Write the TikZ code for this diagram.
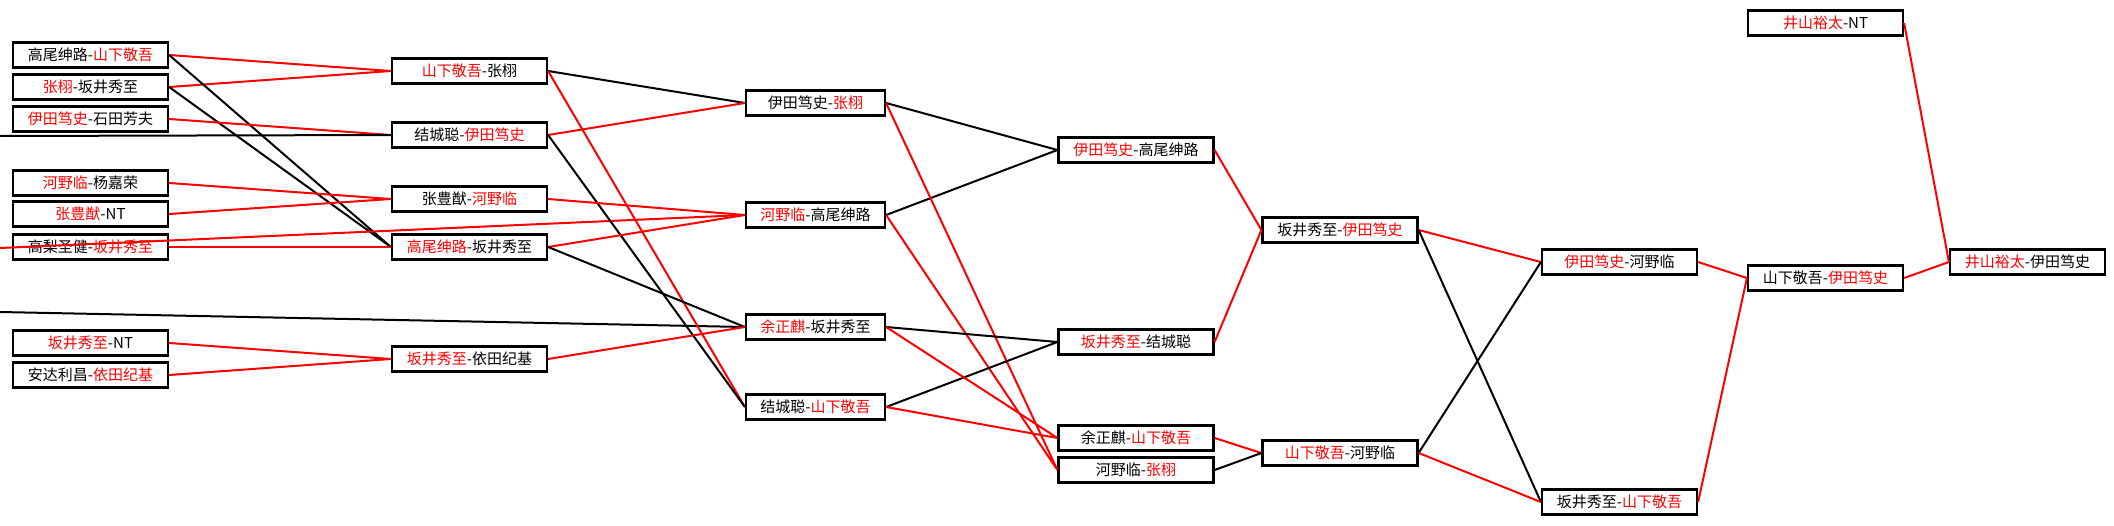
\documentclass[tikz,border=0pt]{standalone}
\usepackage{fontspec}
\newfontfamily\cjk{Noto Sans CJK SC}
\newcommand{\winner}[1]{\textcolor{red}{#1}}
\begin{document}
\begin{tikzpicture}[x=1pt, y=-1pt,
  match/.style={draw, line width=2.2pt, fill=white, minimum width=155pt, minimum height=25pt, inner sep=0pt, font=\cjk\fontsize{15}{15}\selectfont},
  narrow/.style={match, minimum width=139pt},
  won/.style={draw=red, line width=2pt},
  lost/.style={draw=black, line width=2pt}]
  \useasboundingbox (0,0) rectangle (2114,525);
  \node (a1) at (90.5, 55) [match] {高尾绅路-\winner{山下敬吾}};
  \node (a2) at (90.5, 87) [match] {\winner{张栩}-坂井秀至};
  \node (a3) at (90.5, 119) [match] {\winner{伊田笃史}-石田芳夫};
  \node (a4) at (90.5, 183) [match] {\winner{河野临}-杨嘉荣};
  \node (a5) at (90.5, 214) [match] {\winner{张豊猷}-NT};
  \node (a6) at (90.5, 247) [match] {高梨圣健-\winner{坂井秀至}};
  \node (a7) at (90.5, 343) [match] {\winner{坂井秀至}-NT};
  \node (a8) at (90.5, 375) [match] {安达利昌-\winner{依田纪基}};
  \node (b1) at (469.5, 71) [match] {\winner{山下敬吾}-张栩};
  \node (b2) at (469.5, 135) [match] {结城聪-\winner{伊田笃史}};
  \node (b3) at (469.5, 199) [match] {张豊猷-\winner{河野临}};
  \node (b4) at (469.5, 247) [match] {\winner{高尾绅路}-坂井秀至};
  \node (b5) at (469.5, 359) [match] {\winner{坂井秀至}-依田纪基};
  \node (c1) at (815.5, 103) [narrow] {伊田笃史-\winner{张栩}};
  \node (c2) at (815.5, 215) [narrow] {\winner{河野临}-高尾绅路};
  \node (c3) at (815.5, 327) [narrow] {\winner{余正麒}-坂井秀至};
  \node (c4) at (815.5, 407) [narrow] {结城聪-\winner{山下敬吾}};
  \node (d1) at (1136, 150) [match] {\winner{伊田笃史}-高尾绅路};
  \node (d2) at (1136, 342) [match] {\winner{坂井秀至}-结城聪};
  \node (d3) at (1136, 438) [match] {余正麒-\winner{山下敬吾}};
  \node (d4) at (1136, 470) [match] {河野临-\winner{张栩}};
  \node (e1) at (1340, 230) [match] {坂井秀至-\winner{伊田笃史}};
  \node (e2) at (1340, 453) [match] {\winner{山下敬吾}-河野临};
  \node (f1) at (1619.5, 262) [match] {\winner{伊田笃史}-河野临};
  \node (f2) at (1619.5, 502) [match] {坂井秀至-\winner{山下敬吾}};
  \node (g0) at (1825.5, 23) [match] {\winner{井山裕太}-NT};
  \node (g1) at (1825.5, 278) [match] {山下敬吾-\winner{伊田笃史}};
  \node (h1) at (2027.5, 262) [match] {\winner{井山裕太}-伊田笃史};
  \coordinate (in1) at (0, 136);
  \coordinate (in2) at (0, 248);
  \coordinate (in3) at (0, 312);
  \draw [won] (a1.east) -- (b1.west) (a2.east) -- (b1.west);
  \draw [lost] (a1.east) -- (b4.west) (a2.east) -- (b4.west);
  \draw [won] (a3.east) -- (b2.west);
  \draw [lost] (in1) -- (b2.west);
  \draw [won] (a4.east) -- (b3.west) (a5.east) -- (b3.west);
  \draw [won] (a6.east) -- (b4.west);
  \draw [won] (in2) -- (c2.west);
  \draw [lost] (in3) -- (c3.west);
  \draw [won] (a7.east) -- (b5.west) (a8.east) -- (b5.west);
  \draw [lost] (b1.east) -- (c1.west);
  \draw [won] (b1.east) -- (c4.west);
  \draw [won] (b2.east) -- (c1.west);
  \draw [lost] (b2.east) -- (c4.west);
  \draw [won] (b3.east) -- (c2.west) (b4.east) -- (c2.west);
  \draw [lost] (b4.east) -- (c3.west);
  \draw [won] (b5.east) -- (c3.west);
  \draw [lost] (c1.east) -- (d1.west) (c2.east) -- (d1.west);
  \draw [won] (c1.east) -- (d4.west) (c2.east) -- (d4.west);
  \draw [lost] (c3.east) -- (d2.west) (c4.east) -- (d2.west);
  \draw [won] (c3.east) -- (d3.west) (c4.east) -- (d3.west);
  \draw [won] (d1.east) -- (e1.west) (d2.east) -- (e1.west);
  \draw [won] (d3.east) -- (e2.west);
  \draw [lost] (d4.east) -- (e2.west);
  \draw [won] (e1.east) -- (f1.west);
  \draw [lost] (e1.east) -- (f2.west) (e2.east) -- (f1.west);
  \draw [won] (e2.east) -- (f2.west);
  \draw [won] (f1.east) -- (g1.west) (f2.east) -- (g1.west);
  \draw [won] (g1.east) -- (h1.west) (g0.east) -- (h1.west);
\end{tikzpicture}
\end{document}
